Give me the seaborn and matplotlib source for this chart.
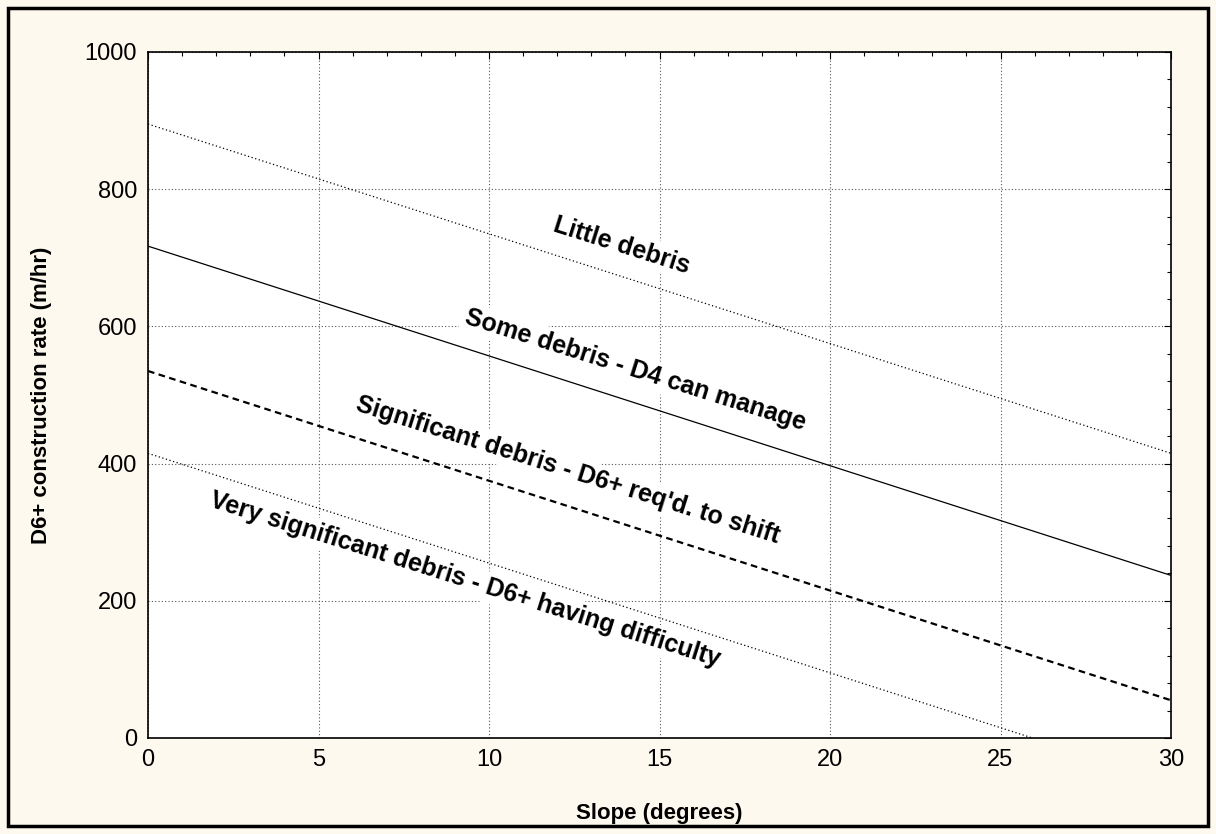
import numpy as np
import pandas as pd
import matplotlib
matplotlib.use("Agg")
import matplotlib.pyplot as plt
import seaborn as sns
from matplotlib.ticker import MultipleLocator
from matplotlib.patches import Rectangle

# slope endpoints (degrees) and construction rates (m/hr)
slope = [0, 30]
little = [895, 415]
some = [717, 237]
significant = [535, 55]
very_significant = [415, -65]

labels = ["Little debris", "Some debris - D4 can manage",
          "Significant debris - D6+ req'd. to shift",
          "Very significant debris - D6+ having difficulty"]
label_x = [13.9, 14.3, 12.3, 9.3]
label_y = [718, 536, 390, 230]

sns.set_theme(style="white")
plt.rcParams['font.family'] = ['Liberation Sans', 'DejaVu Sans']
plt.rcParams['text.color'] = 'black'
plt.rcParams['axes.labelcolor'] = 'black'
plt.rcParams['xtick.color'] = 'black'
plt.rcParams['ytick.color'] = 'black'

bg = '#fef9ee'
fig = plt.figure(figsize=(12.16, 8.34), dpi=100, facecolor=bg)
ax = fig.add_axes([148 / 1216, 1 - 738 / 834, (1171 - 148) / 1216, (738 - 52) / 834])
ax.set_facecolor('white')

# frame around the whole figure
fig.patches.append(Rectangle((8 / 1216, 8 / 834), 1 - 16 / 1216, 1 - 16 / 834,
                             transform=fig.transFigure, fill=False,
                             edgecolor='black', linewidth=2.5))

styles = [dict(linestyle=(0, (1, 2)), linewidth=0.9),
          dict(linestyle='-', linewidth=0.9),
          dict(linestyle=(0, (3, 2)), linewidth=1.6),
          dict(linestyle=(0, (1, 2)), linewidth=0.9)]
for vals, st in zip([little, some, significant, very_significant], styles):
    df = pd.DataFrame({'slope': slope, 'rate': vals})
    sns.lineplot(data=df, x='slope', y='rate', ax=ax, color='black', zorder=3, **st)

ax.set_xlim(0, 30)
ax.set_ylim(0, 1000)
ax.xaxis.set_major_locator(MultipleLocator(5))
ax.xaxis.set_minor_locator(MultipleLocator(1))
ax.yaxis.set_major_locator(MultipleLocator(200))
ax.yaxis.set_minor_locator(MultipleLocator(40))
ax.tick_params(which='both', direction='in', top=True, right=True, color='black')
ax.tick_params(which='major', length=5, width=0.8, labelsize=17, pad=8)
ax.tick_params(which='minor', length=3, width=0.8)
ax.set_axisbelow(True)
ax.grid(True, which='major', linestyle=(0, (1, 2)), color='#555555', linewidth=0.8)
for sp in ax.spines.values():
    sp.set_color('black')
    sp.set_linewidth(1.2)

ax.set_xlabel('Slope (degrees)', fontsize=16, fontweight='bold')
ax.set_ylabel('D6+ construction rate (m/hr)', fontsize=16, fontweight='bold')
ax.xaxis.set_label_coords(0.5, (738 - 803) / 686)
ax.yaxis.set_label_coords((52 - 148) / 1023, 0.5)

# labels sit on a white box that hides the grid but not the lines
for txt, x, y in zip(labels, label_x, label_y):
    ax.text(x, y, txt, rotation=-17.5, ha='center', va='center',
            fontsize=18, fontweight='bold', rotation_mode='anchor', zorder=2,
            bbox=dict(boxstyle='square,pad=0.15', fc='white', ec='none'))

fig.savefig('out.png', dpi=100, facecolor=bg)
